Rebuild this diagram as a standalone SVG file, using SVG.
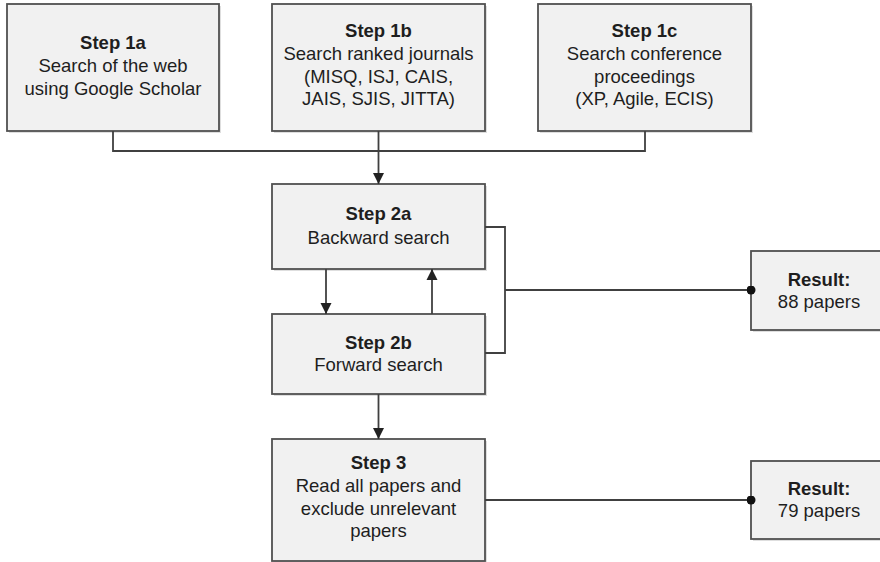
<svg xmlns="http://www.w3.org/2000/svg" width="880" height="562" viewBox="0 0 880 562">
<defs>
<marker id="arr" viewBox="0 0 10 10" refX="10" refY="5" markerWidth="11" markerHeight="12" markerUnits="userSpaceOnUse" orient="auto">
<path d="M0,0 L10,5 L0,10 Z" fill="#222"/>
</marker>
<marker id="dot" viewBox="0 0 10 10" refX="5" refY="5" markerWidth="9" markerHeight="9" markerUnits="userSpaceOnUse">
<circle cx="5" cy="5" r="5" fill="#111"/>
</marker>
</defs>
<style>
.box{fill:#f1f1f1;stroke:#505050;stroke-width:1.8}
.sh{fill:#c8c8c8;opacity:0.6}
text{font-family:"Liberation Sans",Arial,Helvetica,sans-serif;font-size:18.5px;fill:#1e1e1e;text-anchor:middle}
.b{font-weight:bold}
.c{fill:none;stroke:#404040;stroke-width:1.8}
</style>
<rect width="880" height="562" fill="#fff"/>
<g id="step1a">
<rect class="sh" x="9" y="6" width="212" height="127"/>
<rect class="box" x="7" y="4" width="212" height="127"/>
<text x="113" y="49" class="b">Step 1a</text>
<text x="113" y="72">Search of the web</text>
<text x="113" y="95">using Google Scholar</text>
</g>
<g id="step1b">
<rect class="sh" x="274" y="6" width="213" height="127"/>
<rect class="box" x="272" y="4" width="213" height="127"/>
<text x="378.5" y="37" class="b">Step 1b</text>
<text x="378.5" y="60">Search ranked journals</text>
<text x="378.5" y="83">(MISQ, ISJ, CAIS,</text>
<text x="378.5" y="105">JAIS, SJIS, JITTA)</text>
</g>
<g id="step1c">
<rect class="sh" x="540" y="6" width="213" height="127"/>
<rect class="box" x="538" y="4" width="213" height="127"/>
<text x="644.5" y="37" class="b">Step 1c</text>
<text x="644.5" y="60">Search conference</text>
<text x="644.5" y="83">proceedings</text>
<text x="644.5" y="105">(XP, Agile, ECIS)</text>
</g>
<g id="step2a">
<rect class="sh" x="274" y="186" width="213" height="85"/>
<rect class="box" x="272" y="184" width="213" height="85"/>
<text x="378.5" y="220" class="b">Step 2a</text>
<text x="378.5" y="244">Backward search</text>
</g>
<g id="step2b">
<rect class="sh" x="274" y="316" width="213" height="80"/>
<rect class="box" x="272" y="314" width="213" height="80"/>
<text x="378.5" y="349" class="b">Step 2b</text>
<text x="378.5" y="371">Forward search</text>
</g>
<g id="step3">
<rect class="sh" x="274" y="441" width="213" height="122"/>
<rect class="box" x="272" y="439" width="213" height="122"/>
<text x="378.5" y="469" class="b">Step 3</text>
<text x="378.5" y="492">Read all papers and</text>
<text x="378.5" y="515">exclude unrelevant</text>
<text x="378.5" y="537">papers</text>
</g>
<g id="result1">
<rect class="sh" x="753" y="253" width="136" height="79"/>
<rect class="box" x="751" y="251" width="136" height="79"/>
<text x="819" y="286" class="b">Result:</text>
<text x="819" y="308">88 papers</text>
</g>
<g id="result2">
<rect class="sh" x="753" y="463" width="136" height="78"/>
<rect class="box" x="751" y="461" width="136" height="78"/>
<text x="819" y="495" class="b">Result:</text>
<text x="819" y="517">79 papers</text>
</g>
<g id="connectors">
<path class="c" d="M113,131 V151 H645 V131"/>
<path class="c" d="M378.5,131 V184" marker-end="url(#arr)"/>
<path class="c" d="M326,269 V314" marker-end="url(#arr)"/>
<path class="c" d="M432,314 V269" marker-end="url(#arr)"/>
<path class="c" d="M485,227 H505 V353 H485"/>
<path class="c" d="M505,290 H751" marker-end="url(#dot)"/>
<path class="c" d="M378.5,394 V439" marker-end="url(#arr)"/>
<path class="c" d="M485,500 H751" marker-end="url(#dot)"/>
</g>
</svg>
